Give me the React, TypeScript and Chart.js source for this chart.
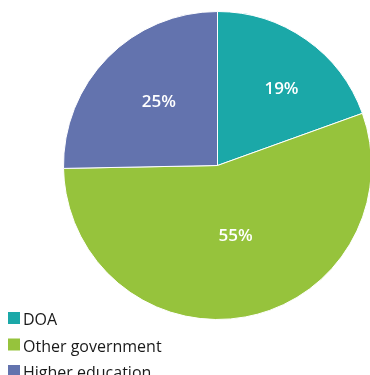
import React, { useEffect, useRef } from "react";
import { Chart, registerables } from "chart.js";

Chart.register(...registerables);

const categories = ["DOA", "Other government", "Higher education"];
const values = [19.5, 55.2, 25.3];
const valueLabels = ["19%", "55%", "25%"];
const colors = ["#1ba8a8", "#96c33c", "#6373ae"];
const labelRadius = [0.645, 0.473, 0.56];
const labelAngleShift = [5, -4, 2.6];

const overlayPlugin = {
  id: "overlay",
  afterDatasetsDraw(chart: any) {
    const ctx = chart.ctx;
    const meta = chart.getDatasetMeta(0);
    ctx.save();
    ctx.fillStyle = "#ffffff";
    ctx.font = "600 17px 'Open Sans', sans-serif";
    ctx.textAlign = "center";
    ctx.textBaseline = "middle";
    meta.data.forEach((arc: any, i: number) => {
      const p = arc.getProps(["x", "y", "startAngle", "endAngle", "outerRadius"], true);
      const mid = (p.startAngle + p.endAngle) / 2 + (labelAngleShift[i] * Math.PI) / 180;
      const r = p.outerRadius * labelRadius[i];
      ctx.fillText(valueLabels[i], p.x + Math.cos(mid) * r, p.y + Math.sin(mid) * r);
    });
    // legend
    ctx.textAlign = "left";
    ctx.textBaseline = "alphabetic";
    ctx.font = "16px 'Open Sans', sans-serif";
    categories.forEach((c, i) => {
      const y = 312 + i * 26.5;
      ctx.fillStyle = colors[i];
      ctx.fillRect(8, y, 12, 12);
      ctx.fillStyle = "#1a1a1a";
      ctx.fillText(c, 23, y + 13);
    });
    ctx.restore();
  },
};

export default function App() {
  const ref = useRef<HTMLCanvasElement>(null);
  useEffect(() => {
    const chart = new Chart(ref.current!, {
      type: "pie",
      data: {
        labels: categories,
        datasets: [
          {
            data: values,
            backgroundColor: colors,
            borderColor: "#ffffff",
            borderWidth: 1,
          },
        ],
      },
      options: {
        responsive: false,
        animation: false,
        layout: { padding: { left: 63, right: 0, top: 11, bottom: 55 } },
        plugins: { legend: { display: false }, tooltip: { enabled: false } },
      },
      plugins: [overlayPlugin],
    });
    return () => chart.destroy();
  }, []);
  return (
    <div style={{ position: "fixed", left: 0, top: 0, width: 370, height: 375, background: "#fff", overflow: "hidden" }}>
      <canvas ref={ref} width={372} height={375} />
    </div>
  );
}
